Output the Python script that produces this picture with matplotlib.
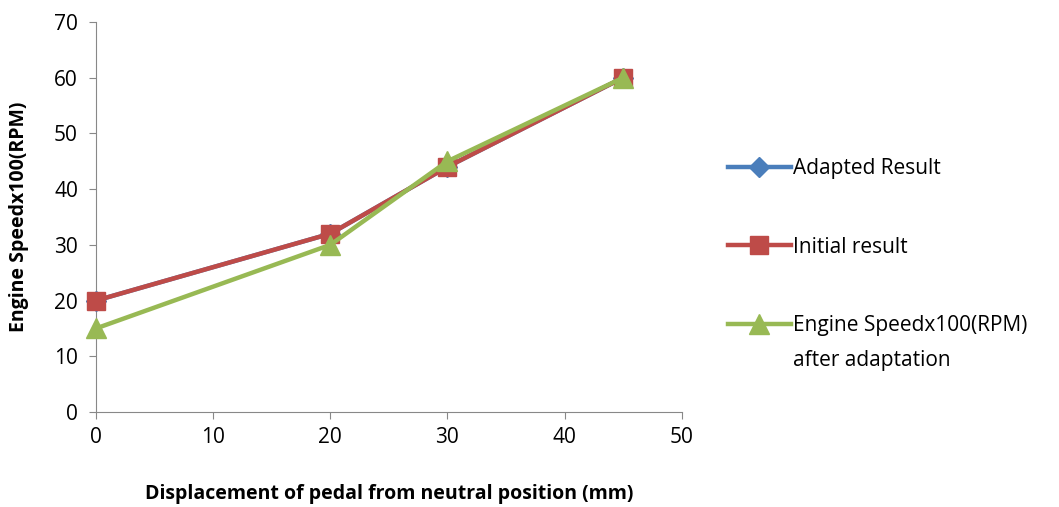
import matplotlib.pyplot as plt
import numpy as np

plt.rcParams['font.family'] = ['Open Sans', 'DejaVu Sans']

displacement = [0, 20, 30, 45]
adapted_result = [20, 32, 44, 60]
initial_result = [20, 32, 44, 60]
speed_after = [15, 30, 45, 60]

fig = plt.figure(figsize=(10.59, 5.07), dpi=100)
ax = fig.add_axes([0.0907, 0.1874, 0.553, 0.7692])

ax.plot(displacement, adapted_result, color='#4a7ebb', lw=3.2, marker='D', ms=10,
        label='Adapted Result', clip_on=False, zorder=3)
ax.plot(displacement, initial_result, color='#be4b48', lw=3.2, marker='s', ms=13,
        label='Initial result', clip_on=False, zorder=4)
ax.plot(displacement, speed_after, color='#98b954', lw=3.2, marker='^', ms=14,
        label='Engine Speedx100(RPM)', clip_on=False, zorder=5)

ax.set_xlim(0, 50)
ax.set_ylim(0, 70)
ax.set_xticks(np.arange(0, 51, 10))
ax.set_yticks(np.arange(0, 71, 10))
ax.spines['top'].set_visible(False)
ax.spines['right'].set_visible(False)
for s in ['left', 'bottom']:
    ax.spines[s].set_color('#888888')
ax.tick_params(axis='both', colors='#888888', labelcolor='black', labelsize=15,
               direction='out', length=5)
ax.tick_params(axis='y', pad=8)
ax.tick_params(axis='x', pad=6)

ax.set_xlabel('Displacement of pedal from neutral position (mm)', fontsize=14,
              fontweight='bold', labelpad=26)
ax.set_ylabel('Engine Speedx100(RPM)', fontsize=14, fontweight='bold', labelpad=18)

leg = ax.legend(loc='center left', bbox_to_anchor=(1.065, 0.423), frameon=False,
                fontsize=15, handlelength=3.0, handletextpad=0.1, labelspacing=2.75,
                markerscale=1.0, borderaxespad=0)

# second line of the last legend label, placed under its first line
fig.canvas.draw()
bb = leg.get_texts()[2].get_window_extent()
x0, y0 = fig.transFigure.inverted().transform((bb.x0, bb.y0))
fig.text(x0, y0 - 0.028, 'after adaptation', fontsize=15, ha='left', va='top')

plt.savefig('out.png', dpi=100)
